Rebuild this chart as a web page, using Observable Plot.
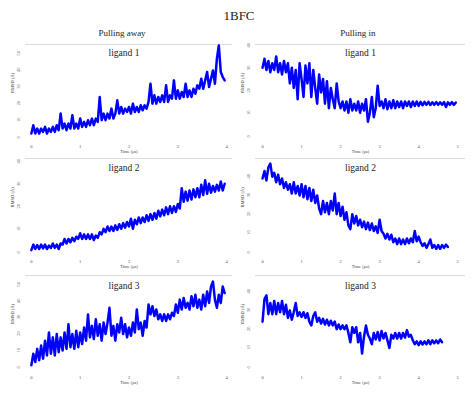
<!DOCTYPE html>
<html><head><meta charset="utf-8">
<script src="https://cdn.jsdelivr.net/npm/d3@7"></script>
<script src="https://cdn.jsdelivr.net/npm/@observablehq/plot@0.6"></script>
<style>
body{margin:0;background:#fff;}
#fig{position:relative;width:474px;height:395px;overflow:hidden;background:#fff;font-family:"Liberation Serif","DejaVu Serif",serif;}
.t{position:absolute;transform:translate(-50%,-50%);white-space:nowrap;color:#222;}
#fig svg{position:absolute;}
</style></head><body>
<div id="fig">
<div class="t" style="left:239px;top:16px;font-size:13px">1BFC</div>
<div class="t" style="left:122px;top:33px;font-size:9px">Pulling away</div>
<div class="t" style="left:358px;top:33px;font-size:9px">Pulling in</div>
</div>
<script>
// ---- data (RMSD in Å, sampled every dt μs) ----
const columnTitles = ["Pulling away", "Pulling in"];
const ligandTitles = ["ligand 1", "ligand 2", "ligand 3"];
const xTicksAway = [0, 1, 2, 3, 4];
const xTicksIn = [0, 1, 2, 3, 4, 5];
const yTicks50 = [0, 10, 20, 30, 40, 50];
const yTicks40 = [0, 10, 20, 30, 40];
const dtAway = 0.04;
const dtIn = 0.05;

const away1 = [3,8,3,6,3,6,4,7,3,6,4,7,4,8,5,15,6,9,5,9,6,14,6,9,6,12,7,10,7,11,8,12,8,12,10,25,11,15,11,15,12,18,12,15,23,15,19,15,18,16,19,15,21,16,19,16,20,17,20,18,22,33,21,26,21,25,22,26,22,32,22,26,24,35,24,29,24,28,25,33,25,29,25,30,27,32,30,36,30,35,40,31,36,41,33,48,56,40,37,35];
const in1 = [31,35,30,34,29,33,30,36,29,33,28,34,29,33,24,31,22,30,17,33,26,18,32,24,33,18,30,22,15,28,20,26,15,25,13,22,17,13,24,16,13,16,12,16,11,17,12,15,12,16,11,15,12,17,7,11,18,9,13,23,14,16,13,17,12.5,16,13,16.5,13,16,13.5,16,13,16,14,16,13.5,16,14,16,14,15.8,14.3,15.8,14.5,15.8,14.4,15.6,14.5,15.7,14.5,15.6,14.5,15.7,13.5,15.6,14.5,15.7,14.5,15.5];
const away2 = [1.5,4,2,3.8,2,4,2.3,4,2,3.5,2.5,4.5,2.5,4,2,4.5,4,6.5,4.5,6.5,5,7,5.5,7.5,6.5,9,6.5,8.5,6.5,8.5,6.5,8.5,6,8,7,9.5,8.5,11,9.5,12,10,12,10,12.5,10.5,13,11,13.5,11.5,14,12,15.5,11,15,13,16,13.5,16,14,17,14.5,17.5,15,18,15.5,19,16.5,19.5,17,20.5,17.5,21,18,21,18.5,22,20,29,23,27.5,23.5,28,24,28.5,25,29,25,30.5,26,32.5,26.5,31,27,30,27.5,30.5,28,32,28,31];
const in2 = [40,44,39,46,48,41,43,38,42,37,40,35,38,34,37,32,38,32,36,31,37,30,36,29,35,28,34,27,31,24,21,28,22,27,21,28,23,32,21,27,20,25,18,22,15,13,21,16,20,15,18,14,17,13,16.5,12.5,16,12,14.5,11,18,12,10.5,8,10.5,7.5,10,6,8,5,8,5,7.5,5,8,5.5,8,6,12,6.5,9,6,4,5.5,3,5,7.5,3,4.5,2.5,4.5,2.5,4.5,3,4.8,3.5];
const away3 = [2,9,4,12,5,14,6,17,8,22,9,19,8,21,10,19,11,22,12,27,13,21,12,23,13,22,15,25,17,33,19,26,18,30,20,27,17,28,21,28,37,20,26,17,27,22,31,21,27,19,25,20,28,22,36,24,28,20,29,25,39,33,38,32,36,30,33,29,33,29,33,30,34,32,39,34,42,36,43,37,40,36,44,38,45,37,42,36,45,38,47,40,50,53,42,37,45,40,50,46];
const in3 = [25,37,39,29,35,29,36,29,35,30,36,29,34,27,31,26,30,35,28,30,27.5,30,27,29.5,25,23,28,30,25,27,24,26.5,23.5,26,23,25.5,23,25,21,23.5,21,23,21,23,19,14,22,19,22,14,19,8,17,23,18,16,13,19,15.5,19.5,15,20,16,19,15,11,18,16,19,16,19,16,19,16.5,20.5,17,18,15,13,14.5,12.5,14.5,12.8,14.5,13,15,13,15,13.5,15,13.5,15.5,14];

// ---- panel options (layout kept separate from data) ----
const L = {left: 0, ml: 25, mr: 5, xd: [-0.12, 4.12], xTicks: xTicksAway, dt: dtAway, tdx: -5};
const R = {left: 237, ml: 18, mr: 9, xd: [-0.18, 5.2], xTicks: xTicksIn, dt: dtIn, tdx: 0};
const panels = [
  {...L, top: 40,  h: 120, mb: 19, values: away1, yd: [-1.8, 56.6], yTicks: yTicks50, title: ligandTitles[0], tdy: 8.5},
  {...R, top: 40,  h: 120, mb: 19, values: in1,   yd: [-1.8, 41.3], yTicks: yTicks40, title: ligandTitles[0], tdy: 8.5},
  {...L, top: 154, h: 120, mb: 18, values: away2, yd: [-1.3, 42.2], yTicks: yTicks40, title: ligandTitles[1], tdy: 9},
  {...R, top: 154, h: 120, mb: 18, values: in2,   yd: [-1.6, 50.7], yTicks: yTicks40, title: ligandTitles[1], tdy: 9},
  {...L, top: 271, h: 124, mb: 23, values: away3, yd: [-2.4, 56.7], yTicks: yTicks50, title: ligandTitles[2], tdy: 10},
  {...R, top: 271, h: 124, mb: 23, values: in3,   yd: [-2.1, 49.6], yTicks: yTicks40, title: ligandTitles[2], tdy: 10}
];

const fig = document.getElementById("fig");
const serif = "Liberation Serif, DejaVu Serif, serif";
for (const s of panels) {
  const data = s.values.map((v, i) => ({t: i * s.dt, r: v}));
  const svg = Plot.plot({
    width: 237, height: s.h,
    marginTop: 4, marginBottom: s.mb, marginLeft: s.ml, marginRight: s.mr,
    x: {domain: s.xd, axis: null},
    y: {domain: s.yd, axis: null},
    style: {background: "transparent", overflow: "visible", fontFamily: serif},
    marks: [
      Plot.ruleY([s.yd[1]], {stroke: "#dcdcdc", strokeWidth: 1}),
      Plot.line(data, {x: "t", y: "r", stroke: "#0000ff", strokeWidth: 2.5, strokeLinejoin: "round"}),
      Plot.text(s.yTicks, {y: d => d, text: d => String(d), frameAnchor: "left", dx: -7, rotate: -90, fontSize: 4.5, fill: "#555"}),
      Plot.text(s.xTicks, {x: d => d, text: d => String(d), frameAnchor: "bottom", dy: 6, fontSize: 4.5, fill: "#555"}),
      Plot.text(["Time (μs)"], {frameAnchor: "bottom", dy: 11, fontSize: 4.5, fill: "#444"}),
      Plot.text(["RMSD (Å)"], {frameAnchor: "left", dx: -13, rotate: -90, fontSize: 4.5, fill: "#444"}),
      Plot.text([s.title], {frameAnchor: "top", lineAnchor: "middle", dy: s.tdy, dx: s.tdx, fontSize: 9.5, fill: "#222", fontFamily: serif})
    ]
  });
  svg.style.left = s.left + "px";
  svg.style.top = s.top + "px";
  fig.appendChild(svg);
}
</script>
</body></html>
